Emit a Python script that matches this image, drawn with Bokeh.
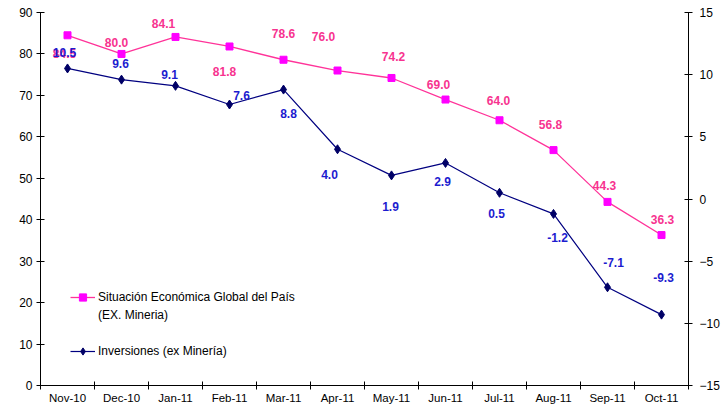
from bokeh.plotting import figure
from bokeh.models import Range1d, LinearAxis, FixedTicker, ColumnDataSource, Legend, LegendItem
from bokeh.core.properties import value
from bokeh.embed import file_html
from bokeh.resources import INLINE

months = ["Nov-10", "Dec-10", "Jan-11", "Feb-11", "Mar-11", "Apr-11",
          "May-11", "Jun-11", "Jul-11", "Aug-11", "Sep-11", "Oct-11"]
situacion = [84.5, 80.0, 84.1, 81.8, 78.6, 76.0, 74.2, 69.0, 64.0, 56.8, 44.3, 36.3]
inversiones = [10.5, 9.6, 9.1, 7.6, 8.8, 4.0, 1.9, 2.9, 0.5, -1.2, -7.1, -9.3]
left_ticks = [0, 10, 20, 30, 40, 50, 60, 70, 80, 90]
right_ticks = [-15, -10, -5, 0, 5, 10, 15]

# label placement (screen pixel offsets), styling only
pink_dx = [-3, -5, -12, -5, 0, -14, 2, -7, -1, -3, -3, 1]
pink_dy = [18, -11, -13, 25, -26, -34, -21, -15, -20, -26, -16, -16]
blue_dx = [-3, -1, -6, 12, 5, -8, -1, -3, -3, 4, 6, 2]
blue_dy = [-16, -16, -11, -9, 24, 25, 31, 19, 21, 24, -25, -37]

FONT = "Liberation Sans"
PINK_LINE = "#FF3399"
PINK_MARK = "#FF00FF"
PINK_TEXT = "#F7338F"
BLUE_LINE = "#000080"
BLUE_MARK = "#000066"
BLUE_TEXT = "#1C1CCF"

n = len(months)
xs = [i + 0.5 for i in range(n)]

p = figure(width=722, height=406, x_range=Range1d(0, n), y_range=Range1d(0, 90),
           output_backend="svg", toolbar_location=None,
           min_border_left=40, min_border_right=28, min_border_top=12, min_border_bottom=20)
p.outline_line_color = None
p.grid.visible = False
p.background_fill_color = "white"

p.extra_y_ranges = {"right": Range1d(-15, 15)}
raxis = LinearAxis(y_range_name="right", ticker=FixedTicker(ticks=right_ticks))
p.add_layout(raxis, "right")

for ax in p.yaxis:
    ax.major_tick_in = 4
    ax.major_tick_out = 4
    ax.minor_tick_line_color = None
    ax.major_label_text_font = FONT
    ax.major_label_text_font_size = "12px"
    ax.major_label_text_color = "black"
    ax.axis_line_color = "black"
    ax.major_tick_line_color = "black"
p.yaxis[0].ticker = FixedTicker(ticks=left_ticks)
p.yaxis[0].major_label_standoff = 4
raxis.major_label_standoff = 7

xa = p.xaxis[0]
xa.ticker = FixedTicker(ticks=xs, minor_ticks=list(range(n + 1)))
xa.major_label_overrides = {x: m for x, m in zip(xs, months)}
xa.major_tick_line_color = None
xa.major_tick_in = 0
xa.major_tick_out = 0
xa.minor_tick_in = 4
xa.minor_tick_out = 4
xa.minor_tick_line_color = "black"
xa.axis_line_color = "black"
xa.major_label_standoff = 2
xa.major_label_text_font = FONT
xa.major_label_text_font_size = "11.5px"
xa.major_label_text_color = "black"

src_p = ColumnDataSource(dict(x=xs, y=situacion, t=[f"{v:.1f}" for v in situacion],
                              dx=pink_dx, dy=pink_dy))
src_b = ColumnDataSource(dict(x=xs, y=inversiones, t=[f"{v:.1f}" for v in inversiones],
                              dx=blue_dx, dy=blue_dy))

pl = p.line("x", "y", source=src_p, line_color=PINK_LINE, line_width=1.3)
ps = p.scatter("x", "y", source=src_p, marker="square", size=7,
               fill_color=PINK_MARK, line_color=PINK_MARK)
bl = p.line("x", "y", source=src_b, line_color=BLUE_LINE, line_width=1.2, y_range_name="right")
bs = p.scatter("x", "y", source=src_b, marker="diamond", size=9,
               fill_color=BLUE_MARK, line_color=BLUE_MARK, y_range_name="right")

p.text("x", "y", text="t", x_offset="dx", y_offset="dy", source=src_p,
       text_align="center", text_baseline="middle", text_font=value(FONT),
       text_font_style="bold", text_font_size="12px", text_color=PINK_TEXT)
p.text("x", "y", text="t", x_offset="dx", y_offset="dy", source=src_b, y_range_name="right",
       text_align="center", text_baseline="middle", text_font=value(FONT),
       text_font_style="bold", text_font_size="12px", text_color=BLUE_TEXT)

dummy = p.line(x=[], y=[], line_alpha=0)

legend = Legend(items=[
    LegendItem(label="Situación Económica Global del País", renderers=[pl, ps]),
    LegendItem(label="(EX. Mineria)", renderers=[dummy]),
    LegendItem(label=" ", renderers=[dummy]),
    LegendItem(label="Inversiones (ex Minería)", renderers=[bl, bs]),
], location=(30, 25))
legend.glyph_width = 25
legend.glyph_height = 18
legend.label_height = 18
legend.spacing = 0
legend.padding = 0
legend.margin = 0
legend.border_line_color = None
legend.background_fill_alpha = 0
legend.label_standoff = 3
legend.label_text_font = FONT
legend.label_text_font_size = "12px"
legend.label_text_color = "black"
p.add_layout(legend)

open("out.html", "w").write(file_html(p, INLINE))
